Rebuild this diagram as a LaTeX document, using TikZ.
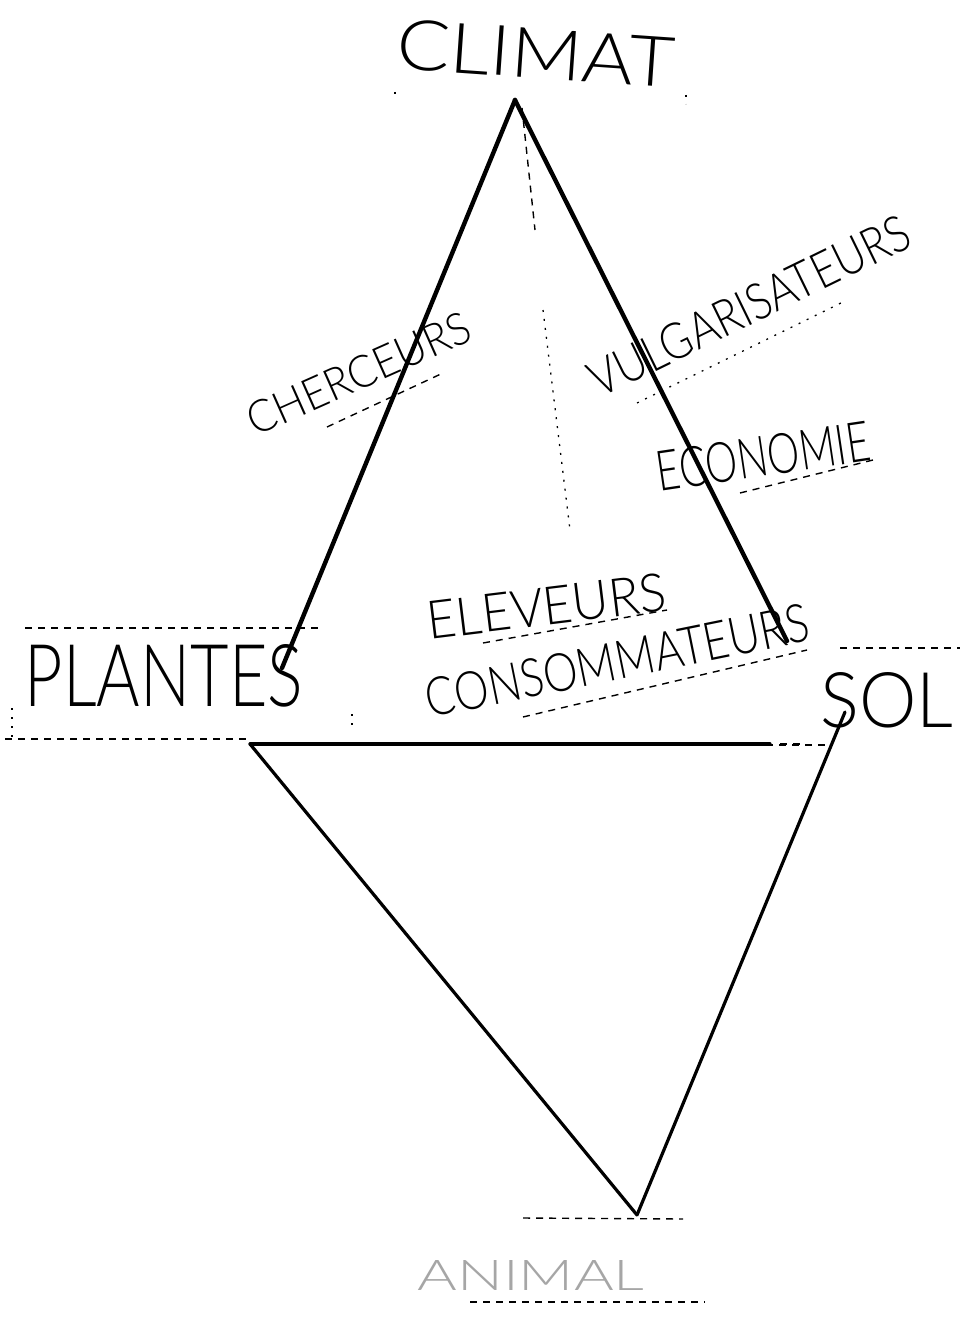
\documentclass[tikz,border=0pt]{standalone}
\usepackage{fontspec}
\setmainfont{Lato Light}
\usepackage{graphicx}
\newcommand\hw[3]{\resizebox{#1pt}{#2pt}{#3}}
\begin{document}
\begin{tikzpicture}[x=1pt,y=-1pt,
  heavy/.style={line width=4.4pt, line cap=round},
  medium/.style={line width=3.2pt, line cap=round},
  dashln/.style={line width=1.4pt, dash pattern=on 7pt off 6pt},
  dotln/.style={line width=1.3pt, dash pattern=on 2pt off 7pt},
  lbl/.style={inner sep=0pt, anchor=base, font=\fontsize{40}{40}\selectfont}]
\useasboundingbox[fill=white] (0,0) rectangle (960,1319);

% labels
\node[lbl, rotate=-4] (climat) at (534,78) {\hw{278}{50}{CLIMAT}};
\node[lbl] (plantes) at (164,706) {\hw{278}{62}{PLANTES}};
\node[lbl] (sol) at (887,727) {\hw{133}{55}{SOL}};
\node[lbl, rotate=24] (chercheurs) at (365,388) {\hw{240}{32}{CHERCEURS}};
\node[lbl, rotate=26] (vulg) at (757,322) {\hw{351}{36}{VULGARISATEURS}};
\node[lbl, rotate=8.5] (eco) at (766,476) {\hw{215}{40}{ECONOMIE}};
\node[lbl, rotate=7] (elev) at (549,625) {\hw{240}{38}{ELEVEURS}};
\node[lbl, rotate=11.5] (conso) at (621,679) {\hw{390}{38}{CONSOMMATEURS}};
\node[lbl, text=black!35] (animal) at (531,1290) {\hw{227}{30}{ANIMAL}};

% vertices
\coordinate (apex) at (515,100);
\coordinate (lt) at (282,668);
\coordinate (rt) at (787,641);
\coordinate (pl) at (250,744);
\coordinate (hr) at (770,744);
\coordinate (so) at (845,712);
\coordinate (bot) at (637,1215);

% triangle and diamond
\draw[heavy] (apex) -- (lt);
\draw[heavy] (apex) -- (rt);
\draw[medium] (pl) -- (hr);
\draw[medium] (pl) -- (bot);
\draw[medium] (so) -- (bot);

% faint vertical from the apex
\draw[dashln] (522,108) -- (535,230);
\draw[dotln] (543,310) -- (570,530);

% underlines
\draw[dashln] (327,427) -- (443,373);
\draw[dotln] (637,403) -- (847,300);
\draw[dashln] (740,493) -- (873,460);
\draw[dashln] (483,643) -- (667,610);
\draw[dashln] (523,717) -- (807,650);

% label boxes
\draw[dashln] (25,628) -- (320,628);
\draw[dashln] (5,739) -- (250,739);
\draw[dotln] (12,708) -- (12,740);
\draw[dotln] (352,714) -- (352,730);
\draw[dashln] (840,648) -- (960,648);
\draw[dashln] (740,745) -- (825,745);
\draw[dashln] (780,744) -- (800,744);
\draw[dashln] (523,1218) -- (683,1219);
\draw[dashln] (470,1302) -- (705,1302);
\draw[dotln] (395,92) -- (395,100);
\draw[dotln] (686,95) -- (686,104);
\end{tikzpicture}
\end{document}
